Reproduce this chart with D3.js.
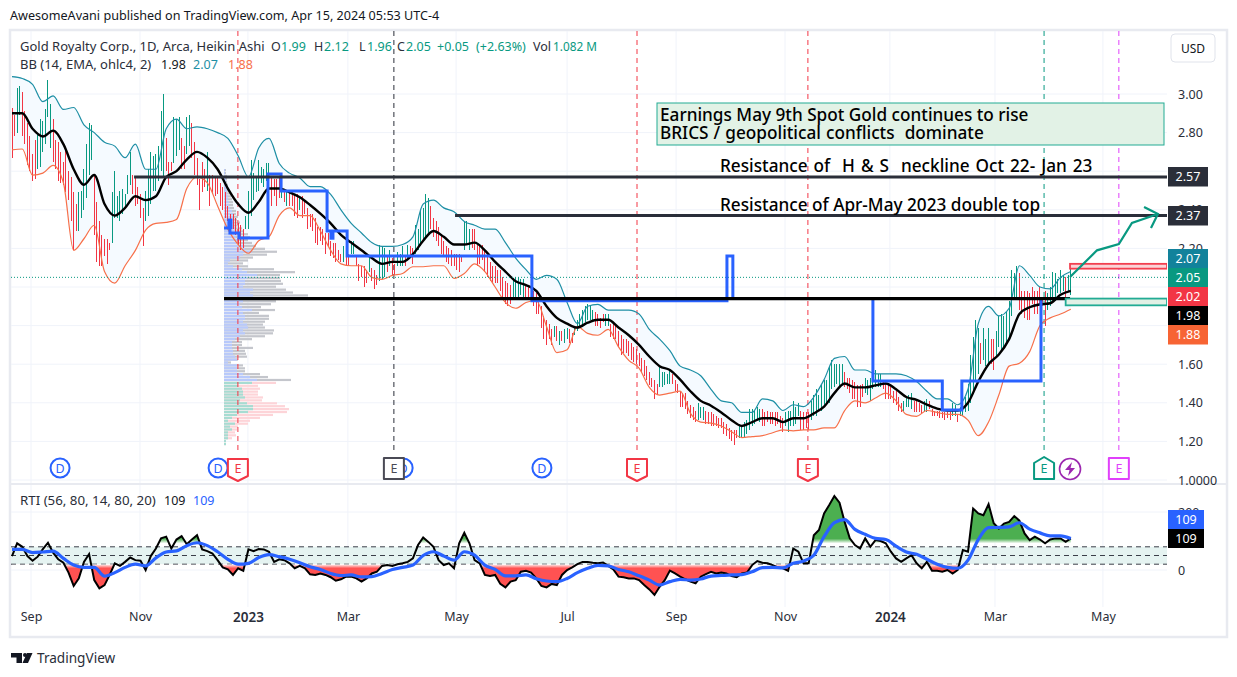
<!DOCTYPE html>
<html lang="en">
<head>
<meta charset="UTF-8">
<title>Gold Royalty Corp. 1D Heikin Ashi</title>
<script src="https://cdn.jsdelivr.net/npm/d3@7"></script>
<style>
  html, body { margin: 0; padding: 0; background: #fff; }
  svg { display: block; }
  text { font-family: "Noto Sans", "Open Sans", sans-serif; fill: #131722; }
  .axis text { font-size: 12.5px; fill: #2a2e39; }
  .axis path, .axis line { display: none; }
</style>
</head>
<body>
<div id="chart"></div>
<script>
  // Heikin Ashi bars, one entry per trading day
  var barHigh = [2.93,2.89,3.03,3.04,3.01,2.91,2.85,2.78,2.69,2.76,2.79,2.87,2.86,2.92,3.07,2.95,2.87,2.76,2.75,2.70,
    2.65,2.71,2.60,2.57,2.49,2.43,2.49,2.50,2.61,2.74,2.85,2.84,2.58,2.44,2.34,2.27,2.25,2.25,2.23,2.49,
    2.60,2.47,2.50,2.51,2.48,2.58,2.70,2.58,2.57,2.52,2.48,2.41,2.50,2.61,2.70,2.68,2.69,2.73,2.91,3.00,
    2.77,2.65,2.65,2.88,2.87,2.88,2.77,2.73,2.88,2.89,2.85,2.75,2.67,2.56,2.65,2.61,2.70,2.58,2.58,2.57,
    2.57,2.54,2.52,2.49,2.42,2.38,2.38,2.36,2.33,2.32,2.30,2.37,2.50,2.66,2.59,2.57,2.66,2.62,2.61,2.64,
    2.64,2.57,2.56,2.56,2.57,2.51,2.51,2.50,2.49,2.49,2.48,2.48,2.47,2.47,2.45,2.41,2.38,2.38,2.36,2.31,
    2.31,2.30,2.28,2.28,2.24,2.23,2.23,2.19,2.17,2.21,2.16,2.17,2.24,2.24,2.16,2.12,2.11,2.11,2.09,2.15,
    2.10,2.09,2.06,2.22,2.21,2.20,2.16,2.19,2.15,2.12,2.18,2.17,2.21,2.16,2.22,2.21,2.20,2.32,2.30,2.40,
    2.41,2.48,2.46,2.42,2.36,2.34,2.31,2.27,2.24,2.21,2.20,2.19,2.17,2.17,2.17,2.16,2.34,2.34,2.30,2.30,
    2.30,2.22,2.21,2.22,2.19,2.16,2.13,2.11,2.11,2.09,2.09,2.05,2.03,2.02,2.01,2.04,2.05,2.05,2.04,2.04,
    2.01,2.01,1.99,1.98,1.97,1.93,1.90,1.85,1.83,1.81,1.78,1.80,1.80,1.77,1.77,1.78,1.79,1.78,1.76,1.80,
    1.83,1.86,1.88,1.90,1.91,1.90,1.88,1.87,1.86,1.84,1.86,1.86,1.86,1.81,1.81,1.80,1.77,1.75,1.73,1.73,
    1.72,1.71,1.69,1.68,1.66,1.63,1.62,1.59,1.56,1.53,1.52,1.50,1.59,1.56,1.56,1.55,1.57,1.55,1.52,1.50,
    1.46,1.45,1.45,1.41,1.39,1.38,1.36,1.40,1.38,1.38,1.36,1.35,1.35,1.34,1.33,1.32,1.32,1.30,1.29,1.27,
    1.26,1.26,1.26,1.29,1.28,1.30,1.31,1.37,1.37,1.36,1.38,1.37,1.37,1.35,1.36,1.35,1.35,1.35,1.35,1.33,
    1.32,1.35,1.36,1.36,1.41,1.38,1.40,1.36,1.35,1.35,1.35,1.41,1.44,1.47,1.44,1.50,1.52,1.52,1.59,1.62,
    1.60,1.60,1.60,1.60,1.56,1.53,1.53,1.52,1.51,1.49,1.49,1.50,1.53,1.52,1.53,1.55,1.57,1.55,1.55,1.52,
    1.50,1.49,1.48,1.46,1.46,1.43,1.40,1.41,1.43,1.44,1.45,1.41,1.41,1.40,1.39,1.41,1.42,1.41,1.37,1.36,
    1.36,1.36,1.35,1.35,1.35,1.35,1.40,1.39,1.34,1.38,1.40,1.43,1.50,1.65,1.74,1.83,1.79,1.71,1.79,1.73,
    1.79,1.73,1.73,1.77,1.85,1.86,1.85,1.87,1.93,2.09,2.07,2.11,2.07,1.98,1.98,1.98,1.97,2.00,1.98,1.98,
    2.00,1.94,1.98,1.97,2.00,2.08,2.07,2.04,2.09,2.06,2.05,2.06,2.12];
  var barLow = [2.67,2.78,2.80,2.89,2.78,2.74,2.63,2.60,2.55,2.56,2.61,2.62,2.70,2.74,2.88,2.72,2.65,2.61,2.55,2.54,
    2.53,2.49,2.45,2.34,2.19,2.29,2.29,2.36,2.40,2.46,2.58,2.66,2.27,2.13,2.11,2.11,2.16,2.12,2.19,2.23,
    2.36,2.36,2.34,2.38,2.42,2.48,2.53,2.48,2.42,2.43,2.36,2.21,2.34,2.37,2.43,2.50,2.50,2.55,2.60,2.57,
    2.60,2.53,2.60,2.64,2.68,2.71,2.61,2.61,2.69,2.73,2.67,2.58,2.53,2.40,2.49,2.52,2.50,2.42,2.48,2.47,
    2.48,2.42,2.40,2.36,2.34,2.32,2.30,2.27,2.22,2.19,2.20,2.30,2.30,2.37,2.45,2.49,2.50,2.54,2.52,2.55,
    2.51,2.42,2.47,2.42,2.46,2.46,2.44,2.42,2.42,2.42,2.37,2.36,2.40,2.36,2.38,2.30,2.31,2.29,2.23,2.22,
    2.24,2.22,2.17,2.21,2.16,2.15,2.13,2.14,2.13,2.13,2.11,2.11,2.17,2.17,2.11,2.03,2.05,2.00,2.02,2.08,
    2.03,1.99,2.01,2.03,2.04,2.05,2.08,2.11,2.06,2.06,2.11,2.11,2.11,2.11,2.15,2.15,2.12,2.17,2.19,2.21,
    2.24,2.26,2.28,2.30,2.26,2.24,2.21,2.17,2.16,2.13,2.12,2.11,2.11,2.09,2.08,2.13,2.19,2.22,2.19,2.20,
    2.19,2.11,2.12,2.14,2.08,2.05,2.03,2.02,2.02,2.02,1.98,1.95,1.91,1.90,1.91,1.95,1.95,1.95,1.96,1.95,
    1.95,1.95,1.93,1.90,1.86,1.86,1.79,1.73,1.70,1.73,1.70,1.74,1.72,1.70,1.72,1.71,1.73,1.71,1.71,1.75,
    1.77,1.79,1.80,1.82,1.83,1.83,1.83,1.80,1.80,1.79,1.82,1.80,1.80,1.74,1.73,1.73,1.69,1.65,1.66,1.66,
    1.64,1.62,1.61,1.60,1.59,1.56,1.54,1.52,1.49,1.48,1.42,1.44,1.48,1.48,1.49,1.50,1.50,1.50,1.46,1.45,
    1.38,1.38,1.37,1.34,1.32,1.31,1.30,1.31,1.32,1.31,1.29,1.29,1.28,1.28,1.28,1.27,1.27,1.24,1.23,1.21,
    1.20,1.18,1.22,1.22,1.22,1.22,1.24,1.26,1.28,1.29,1.31,1.30,1.28,1.28,1.30,1.29,1.29,1.28,1.29,1.27,
    1.25,1.28,1.25,1.28,1.28,1.29,1.33,1.26,1.26,1.27,1.26,1.31,1.33,1.33,1.36,1.36,1.38,1.40,1.40,1.47,
    1.48,1.50,1.48,1.50,1.48,1.47,1.45,1.42,1.42,1.38,1.38,1.43,1.45,1.44,1.41,1.47,1.48,1.48,1.48,1.47,
    1.42,1.42,1.42,1.40,1.39,1.36,1.35,1.36,1.38,1.38,1.37,1.35,1.35,1.35,1.34,1.35,1.35,1.37,1.33,1.33,
    1.33,1.32,1.32,1.31,1.32,1.31,1.33,1.33,1.30,1.33,1.33,1.35,1.36,1.40,1.45,1.52,1.55,1.60,1.62,1.59,
    1.59,1.60,1.57,1.64,1.69,1.67,1.69,1.71,1.73,1.85,1.94,1.95,1.88,1.86,1.84,1.83,1.83,1.91,1.86,1.86,
    1.91,1.90,1.80,1.88,1.90,1.92,1.93,1.97,1.97,1.98,1.93,1.98,1.96];
  // run lengths of red / green bars, starting with red
  var barRuns = [2,2,6,6,10,6,7,8,5,8,3,3,2,2,6,1,14,10,4,1,1,1,4,1,16,1,2,2,5,1,3,3,1,1,2,3,1,1,2,6,13,3,16,5,11,1,1,1,1,2,2,8,4,2,19,5,10,3,13,9,9,6,4,13,8,7,8,4,4,2,9,2,1,8,1,3,2,9,11,7,1,2];

  // Bollinger bands, one value every 4th bar
  var bandStep = 4;
  var bbUpper = [3.09,3.08,3.05,2.96,2.99,2.92,2.93,2.84,2.80,2.75,2.73,2.67,2.74,2.61,2.61,2.82,2.87,2.82,2.83,2.82,
    2.80,2.77,2.68,2.57,2.72,2.77,2.64,2.59,2.565,2.52,2.52,2.48,2.40,2.33,2.28,2.23,2.21,2.21,2.22,2.26,
    2.43,2.45,2.41,2.39,2.34,2.32,2.30,2.30,2.23,2.15,2.09,2.04,2.06,2.04,1.92,1.81,1.90,1.91,1.88,1.88,
    1.88,1.86,1.78,1.73,1.67,1.59,1.57,1.54,1.47,1.41,1.40,1.35,1.35,1.42,1.41,1.36,1.39,1.38,1.43,1.52,
    1.63,1.64,1.57,1.57,1.55,1.55,1.55,1.54,1.51,1.46,1.42,1.42,1.39,1.47,1.81,1.90,1.85,1.89,2.11,2.06,
    2.00,1.99,2.05,2.08];
  var bbBasis = [2.90,2.90,2.82,2.78,2.81,2.74,2.61,2.53,2.58,2.43,2.37,2.41,2.47,2.45,2.47,2.57,2.60,2.66,2.70,2.67,
    2.61,2.51,2.43,2.385,2.44,2.51,2.51,2.49,2.465,2.425,2.38,2.33,2.27,2.23,2.19,2.15,2.12,2.13,2.13,2.17,
    2.24,2.29,2.26,2.22,2.22,2.23,2.19,2.13,2.08,2.03,2.01,1.98,1.90,1.84,1.81,1.79,1.815,1.83,1.83,1.79,
    1.75,1.70,1.64,1.59,1.57,1.52,1.46,1.41,1.385,1.35,1.31,1.28,1.30,1.32,1.32,1.30,1.32,1.32,1.345,1.38,
    1.45,1.50,1.48,1.48,1.49,1.50,1.47,1.43,1.415,1.39,1.37,1.36,1.36,1.40,1.51,1.60,1.65,1.73,1.86,1.895,
    1.91,1.916,1.96,1.98];
  var bbLower = [2.71,2.715,2.58,2.59,2.63,2.54,2.19,2.25,2.32,2.08,2.02,2.11,2.19,2.295,2.33,2.335,2.35,2.51,2.57,2.54,
    2.42,2.30,2.22,2.175,2.24,2.26,2.37,2.41,2.37,2.37,2.29,2.19,2.12,2.11,2.11,2.05,2.04,2.06,2.07,2.105,
    2.105,2.11,2.11,2.045,2.07,2.12,2.08,2.00,1.92,1.89,1.92,1.93,1.795,1.66,1.675,1.795,1.76,1.75,1.78,1.69,
    1.62,1.58,1.48,1.44,1.45,1.46,1.345,1.30,1.295,1.28,1.25,1.22,1.225,1.23,1.245,1.26,1.255,1.26,1.26,1.27,
    1.27,1.36,1.41,1.40,1.425,1.45,1.41,1.34,1.33,1.36,1.35,1.34,1.34,1.31,1.23,1.30,1.44,1.59,1.605,1.665,
    1.80,1.84,1.86,1.885];

  // RTI pane: value every 2nd bar, moving average every 4th bar
  var rtiStep = 2;
  var rtiValues = [48,92,80,48,32,46,72,94,60,37,25,-9,-55,-29,28,55,-35,-63,-52,-17,
    23,14,28,43,34,32,0,48,74,109,115,74,105,117,89,105,120,71,65,57,
    34,9,2,-17,6,-3,71,65,72,71,63,28,37,34,23,6,14,6,-15,-17,
    -12,-17,-25,-37,-32,-23,-23,-29,-40,-29,-12,-6,14,17,14,20,23,28,40,86,
    112,97,80,34,17,23,6,92,128,92,34,23,-17,-21,-17,-48,-60,-40,-35,-6,
    -3,-9,-29,-55,-60,-48,-52,-17,0,9,20,28,28,25,23,26,14,2,-23,-25,
    -29,-29,-35,-52,-67,-86,-58,-35,-2,-12,-23,-32,-40,-46,-23,-14,-6,-12,-9,-12,
    -21,-25,-12,-9,17,31,25,23,17,9,6,-3,74,63,23,23,120,138,195,224,
    255,232,166,109,86,74,109,80,103,100,92,63,40,28,40,51,23,6,28,-3,
    -3,-6,0,-12,0,69,63,212,195,189,227,161,143,160,166,186,170,126,103,115,
    105,92,105,109,109,97,109];
  var rtiMaStep = 4;
  var rtiMa = [71,71,60,62,65,40,17,9,9,-21,-9,9,20,14,42,62,66,84,94,84,
    63,37,20,23,43,53,46,37,25,11,2,-12,-19,-17,-24,-23,-12,2,9,17,
    50,63,48,34,63,51,17,2,-20,-20,-17,-30,-38,-40,-29,-9,6,16,14,2,
    -6,-20,-35,-52,-40,-32,-35,-31,-21,-19,-17,-16,-6,8,9,7,23,31,51,115,
    163,174,140,123,109,105,82,62,54,37,20,9,6,34,105,146,147,149,163,141,
    128,118,118,109];
  var rtiLevels = [20, 50, 80];

  // Axis ticks
  var priceGrid = [3.0, 2.8, 2.6, 2.4, 2.2, 2.0, 1.8, 1.6, 1.4, 1.2, 1.0];
  var priceTicks = [3.0, 2.8, 2.4, 2.2, 1.6, 1.4, 1.2, 1.0];
  var rtiTicks = [0, 200];
  var timeLabels = ["Sep", "Nov", "2023", "Mar", "May", "Jul", "Sep", "Nov", "2024", "Mar", "May"];
  var timeTickBars = [7.4, 49.8, 91.8, 130.7, 172.8, 216, 258.4, 300.8, 341.6, 382.5, 424.5];

  // Volume profile, rows from top to bottom: inner (blue / teal) and total width
  var vpInner = [1,1,1,2,2,2,3,3,3,4,4,5,5,6,8,9,9,10,9,10,11,11,13,12,14,15,
    19,21,28,19,16,6,4,9,18,23,33,23,21,21,19,29,26,29,19,19,16,18,28,19,21,21,19,23,24,19,21,16,11,8,8,8,9,9,11,13,4,13,13,13,19,26,33,
    28,14,18,19,19,21,16,23,29,29,24,13,8,4,11,6,8,4,4,4,2,2];
  var vpTotal = [2,2,3,3,3,4,4,5,6,7,8,9,9,10,12,12,14,13,16,15,18,20,24,26,24,28,
    32,41,53,43,29,24,19,24,50,71,56,56,57,59,52,62,69,84,64,52,47,37,51,35,45,45,41,39,41,50,49,41,28,18,18,29,21,22,23,14,7,19,21,21,36,44,67,
    52,34,36,34,34,39,38,53,61,65,63,49,36,26,24,14,13,11,12,8,2,2];
  var vpFirstGreenRow = 73;
  var vpTopPrice = 2.606, vpRowPrice = 0.0151;

  // Horizontal levels and drawings, in (bar, price)
  var resistanceLevels = [{bar: 47.5, price: 2.57}, {bar: 172.4, price: 2.37}];
  var blackLevel = {fromBar: 82.5, toBar: 411.7, price: 1.94};
  var stepBars = [82.5,84.8,84.8,88.3,88.3,99.6,99.6,104.7,104.7,122.6,122.6,130.4,130.4,202.3,202.3,278.2,278.2,280.5,280.5,335,335,362,362,369.6,369.6,400.4,400.4];
  var stepPrices = [2.306,2.306,2.28,2.28,2.254,2.254,2.585,2.585,2.497,2.497,2.29,2.29,2.16,2.16,1.929,1.929,2.16,2.16,1.94,1.94,1.513,1.513,1.363,1.363,1.513,1.513,1.94];
  var arrowBars = [411.7,422.2,430.7,435.8,445.9];
  var arrowPrices = [2.052,2.19,2.223,2.332,2.378];
  var arrowHeadBars = [440.5,445.9,443.2];
  var arrowHeadPrices = [2.415,2.378,2.306];

  // Events under the chart
  var dividendBars = [18.7, 80.2, 152.2, 206.2];
  var earnings = [
    {bar: 87.9, color: "#f23645", kind: "down", text: "E"},
    {bar: 148.6, color: "#4a4a55", kind: "square", text: "E"},
    {bar: 243.2, color: "#f23645", kind: "down", text: "E"},
    {bar: 309.7, color: "#f23645", kind: "down", text: "E"},
    {bar: 401.6, color: "#089981", kind: "up", text: "E"},
    {bar: 430.7, color: "#e040fb", kind: "square", text: "E"}
  ];
  var splitBar = 411.7;

  var width = 1237, height = 677;
  var paneRight = 1167, priceTop = 31, priceBottom = 483, rtiBottom = 607;

  var svg = d3.select("#chart").append("svg")
    .attr("width", width).attr("height", height);

  var x = d3.scaleLinear().domain([0, 412]).range([12, 1070.8]);
  var yPrice = d3.scaleLinear().domain([1, 3]).range([480, 94]);
  var yRti = d3.scaleLinear().domain([0, 200]).range([570, 512]);

  var defs = svg.append("defs");
  defs.append("clipPath").attr("id", "priceClip").append("rect")
    .attr("x", 11).attr("y", priceTop).attr("width", paneRight - 11).attr("height", priceBottom - priceTop);
  defs.append("clipPath").attr("id", "rtiClip").append("rect")
    .attr("x", 11).attr("y", priceBottom).attr("width", paneRight - 11).attr("height", rtiBottom - priceBottom);
  defs.append("clipPath").attr("id", "redClip").append("rect")
    .attr("x", 11).attr("y", yRti(20)).attr("width", paneRight - 11).attr("height", 60);
  defs.append("clipPath").attr("id", "greenClip").append("rect")
    .attr("x", 11).attr("y", priceBottom).attr("width", paneRight - 11).attr("height", yRti(92) - priceBottom);

  var redGrad = defs.append("linearGradient").attr("id", "redFill").attr("gradientUnits", "userSpaceOnUse")
    .attr("x1", 0).attr("x2", 0).attr("y1", yRti(20)).attr("y2", yRti(6));
  redGrad.append("stop").attr("offset", 0).attr("stop-color", "#fff");
  redGrad.append("stop").attr("offset", 1).attr("stop-color", "#ff5252");
  var greenGrad = defs.append("linearGradient").attr("id", "greenFill").attr("gradientUnits", "userSpaceOnUse")
    .attr("x1", 0).attr("x2", 0).attr("y1", yRti(92)).attr("y2", yRti(108));
  greenGrad.append("stop").attr("offset", 0).attr("stop-color", "#fff");
  greenGrad.append("stop").attr("offset", 1).attr("stop-color", "#4caf50");

  // Frame and grid
  svg.append("rect").attr("x", 10).attr("y", 30).attr("width", 1217).attr("height", 607)
    .attr("fill", "#fff").attr("stroke", "#e8eaf0").attr("stroke-width", 2.5);

  var grid = svg.append("g").attr("stroke", "#f0f3fa").attr("stroke-width", 1);
  grid.selectAll(".v").data(timeTickBars).enter().append("line")
    .attr("x1", function(d) { return x(d); }).attr("x2", function(d) { return x(d); })
    .attr("y1", priceTop).attr("y2", rtiBottom);
  grid.selectAll(".h").data(priceGrid).enter().append("line")
    .attr("x1", 11).attr("x2", paneRight)
    .attr("y1", function(d) { return yPrice(d); }).attr("y2", function(d) { return yPrice(d); });
  grid.selectAll(".r").data(rtiTicks).enter().append("line")
    .attr("x1", 11).attr("x2", paneRight)
    .attr("y1", function(d) { return yRti(d); }).attr("y2", function(d) { return yRti(d); });
  svg.append("line").attr("x1", 10).attr("x2", 1227).attr("y1", priceBottom + 1).attr("y2", priceBottom + 1)
    .attr("stroke", "#e8eaf0").attr("stroke-width", 2);

  // Axes
  svg.append("g").attr("class", "axis").attr("transform", "translate(1175,0)")
    .call(d3.axisRight(yPrice).tickValues(priceTicks).tickSize(0)
      .tickFormat(function(d) { return d === 1 ? "1.0000" : d.toFixed(2); }));
  svg.append("g").attr("class", "axis").attr("transform", "translate(1175,0)")
    .call(d3.axisRight(yRti).tickValues(rtiTicks).tickSize(0));
  svg.append("g").attr("class", "axis").attr("transform", "translate(0,609)")
    .call(d3.axisBottom(x).tickValues(timeTickBars).tickSize(0)
      .tickFormat(function(d, i) { return timeLabels[i]; }))
    .selectAll("text").attr("font-weight", function(d, i) { return /^20/.test(timeLabels[i]) ? 600 : 400; })
    .style("font-size", function(d, i) { return /^20/.test(timeLabels[i]) ? "13.5px" : "12.5px"; });

  // Price pane
  var pricePane = svg.append("g").attr("clip-path", "url(#priceClip)");

  var bandIdx = d3.range(bbUpper.length);
  pricePane.append("path").datum(bandIdx)
    .attr("fill", "#f5faff")
    .attr("d", d3.area().x(function(i) { return x(i * bandStep); })
      .y0(function(i) { return yPrice(bbLower[i]); })
      .y1(function(i) { return yPrice(bbUpper[i]); })
      .curve(d3.curveMonotoneX));

  // Volume profile
  var vpBars = d3.range(vpTotal.length).map(function(i) {
    return {price: vpTopPrice - i * vpRowPrice, inner: vpInner[i], total: vpTotal[i], green: i >= vpFirstGreenRow};
  });
  var vpX = d3.scaleLinear().domain([0, 100]).range([224, 324]);
  var vpGroup = pricePane.append("g");
  vpGroup.selectAll(".total").data(vpBars).enter().append("rect")
    .attr("x", vpX(0)).attr("y", function(d) { return yPrice(d.price) - 1; })
    .attr("width", function(d) { return vpX(d.total) - vpX(0); }).attr("height", 2.2)
    .attr("fill", function(d) { return d.green ? "#fdd4d8" : "#c4c6cc"; });
  vpGroup.selectAll(".inner").data(vpBars).enter().append("rect")
    .attr("x", vpX(0)).attr("y", function(d) { return yPrice(d.price) - 1; })
    .attr("width", function(d) { return vpX(d.inner) - vpX(0); }).attr("height", 2.2)
    .attr("fill", function(d) { return d.green ? "#a6dcd2" : "#b8c9fb"; });

  // Vertical event lines
  var eventLines = pricePane.append("g");
  earnings.forEach(function(e) {
    eventLines.append("line").attr("x1", x(e.bar)).attr("x2", x(e.bar))
      .attr("y1", priceTop).attr("y2", 452)
      .attr("stroke", e.color === "#4a4a55" ? "#2a2e39" : e.color).attr("stroke-width", 1)
      .attr("stroke-dasharray", "5,4");
  });

  // Bars
  var barDir = [];
  barRuns.forEach(function(n, r) {
    for (var k = 0; k < n; k++) barDir.push(r % 2 === 0 ? "R" : "G");
  });
  pricePane.append("g").attr("shape-rendering", "crispEdges")
    .selectAll("line").data(barHigh).enter().append("line")
    .attr("x1", function(d, i) { return x(i); }).attr("x2", function(d, i) { return x(i); })
    .attr("y1", function(d) { return yPrice(d); })
    .attr("y2", function(d, i) { return yPrice(barLow[i]); })
    .attr("stroke", function(d, i) { return barDir[i] === "G" ? "#089981" : "#f23645"; })
    .attr("stroke-width", 1);

  function bandLine(values) {
    return d3.line().x(function(d, i) { return x(i * bandStep); })
      .y(function(d) { return yPrice(d); }).curve(d3.curveMonotoneX)(values);
  }
  pricePane.append("path").attr("d", bandLine(bbUpper)).attr("fill", "none").attr("stroke", "#1e8fa5").attr("stroke-width", 1.2);
  pricePane.append("path").attr("d", bandLine(bbLower)).attr("fill", "none").attr("stroke", "#f7704a").attr("stroke-width", 1.2);
  pricePane.append("path").attr("d", bandLine(bbBasis)).attr("fill", "none").attr("stroke", "#000").attr("stroke-width", 2.4);

  // Last price dotted line
  pricePane.append("line").attr("x1", 11).attr("x2", paneRight).attr("y1", yPrice(2.05)).attr("y2", yPrice(2.05))
    .attr("stroke", "#089981").attr("stroke-dasharray", "1,2");

  // Blue step line
  pricePane.append("path").datum(d3.range(stepBars.length))
    .attr("fill", "none").attr("stroke", "#2962ff").attr("stroke-width", 3)
    .attr("d", d3.line().x(function(i) { return x(stepBars[i]); }).y(function(i) { return yPrice(stepPrices[i]); }));
  pricePane.append("line").attr("x1", x(84.8)).attr("x2", x(84.8)).attr("y1", yPrice(2.355)).attr("y2", yPrice(2.30))
    .attr("stroke", "#2962ff").attr("stroke-width", 5);
  pricePane.append("line").attr("x1", x(124.5)).attr("x2", x(124.5)).attr("y1", yPrice(2.29)).attr("y2", yPrice(2.245))
    .attr("stroke", "#2962ff").attr("stroke-width", 5);

  // Levels
  resistanceLevels.forEach(function(r) {
    pricePane.append("line").attr("x1", x(r.bar)).attr("x2", paneRight)
      .attr("y1", yPrice(r.price)).attr("y2", yPrice(r.price))
      .attr("stroke", "#2a2e39").attr("stroke-width", 3);
  });
  pricePane.append("line").attr("x1", x(blackLevel.fromBar)).attr("x2", x(blackLevel.toBar))
    .attr("y1", yPrice(blackLevel.price)).attr("y2", yPrice(blackLevel.price))
    .attr("stroke", "#000").attr("stroke-width", 3.4);

  // Long / short boxes
  pricePane.append("rect").attr("x", x(411.7)).attr("y", yPrice(2.12))
    .attr("width", paneRight - x(411.7)).attr("height", yPrice(2.095) - yPrice(2.12))
    .attr("fill", "#fbd3d7").attr("stroke", "#f23f4f").attr("stroke-width", 1.8);
  pricePane.append("rect").attr("x", x(410)).attr("y", yPrice(1.94))
    .attr("width", paneRight - x(410)).attr("height", yPrice(1.905) - yPrice(1.94))
    .attr("fill", "#e2f0e5").attr("stroke", "#22ab94").attr("stroke-width", 1.8);

  // Forecast arrow
  var arrowLine = d3.line().x(function(d) { return x(d[0]); }).y(function(d) { return yPrice(d[1]); });
  pricePane.append("path").attr("d", arrowLine(d3.zip(arrowBars, arrowPrices)))
    .attr("fill", "none").attr("stroke", "#089981").attr("stroke-width", 2.2);
  pricePane.append("path").attr("d", arrowLine(d3.zip(arrowHeadBars, arrowHeadPrices)))
    .attr("fill", "none").attr("stroke", "#089981").attr("stroke-width", 2.2);

  // Annotation box and texts
  svg.append("rect").attr("x", 657).attr("y", 103).attr("width", 507).attr("height", 42)
    .attr("fill", "#e2f2e6").attr("stroke", "#22ab94").attr("stroke-width", 1);
  function addText(str, tx, ty, size, color, weight, anchor) {
    return svg.append("text").attr("x", tx).attr("y", ty).text(str)
      .style("font-size", size + "px").style("fill", color || "#131722")
      .style("white-space", "pre")
      .attr("font-weight", weight || 400).attr("text-anchor", anchor || "start");
  }
  addText("Earnings May 9th Spot Gold continues to rise", 660, 121, 17.2, "#000", 500);
  addText("BRICS / geopolitical conflicts  dominate", 660, 139, 17.2, "#000", 500).style("word-spacing", "0.6px");
  addText("Resistance of  H & S  neckline Oct 22- Jan 23", 720, 172, 17.2, "#000", 500).style("word-spacing", "1.5px");
  addText("Resistance of Apr-May 2023 double top", 720, 211, 17.2, "#000", 500);

  // Header and legends
  addText("AwesomeAvani published on TradingView.com, Apr 15, 2024 05:53 UTC-4", 10, 20, 12.6, "#131722");
  var legendDim = "#2a2e39", up = "#089981";
  var legendRow = [
    ["O", 271, legendDim], ["1.99", 281, up],
    ["H", 314, legendDim], ["2.12", 324, up], ["L", 359, legendDim], ["1.96", 367, up], ["C", 397, legendDim],
    ["2.05", 406, up], ["+0.05", 437, up], ["(+2.63%)", 476, up], ["Vol", 533, legendDim]
  ];
  addText("Gold Royalty Corp., 1D, Arca, Heikin Ashi", 20, 51, 13, legendDim);
  legendRow.forEach(function(t) { addText(t[0], t[1], 51, 12.5, t[2]); });
  addText("1.082 M", 553, 51, 11.8, up);
  addText("BB (14, EMA, ohlc4, 2)", 20, 69, 13, legendDim);
  addText("1.98", 161, 69, 12.5, "#131722");
  addText("2.07", 193, 69, 12.5, "#1e8fa5");
  addText("1.88", 228, 69, 12.5, "#f7704a");
  addText("RTI (56, 80, 14, 80, 20)", 20, 505, 13.3, legendDim);
  addText("109", 164, 505, 12.5, "#131722");
  addText("109", 193, 505, 12.5, "#2962ff");

  // Event markers
  var markers = svg.append("g");
  dividendBars.forEach(function(b) {
    markers.append("circle").attr("cx", x(b)).attr("cy", 468).attr("r", 9.5)
      .attr("fill", "#fff").attr("stroke", "#2962ff").attr("stroke-width", 2);
    markers.append("text").attr("x", x(b)).attr("y", 472.5).attr("text-anchor", "middle")
      .text("D").style("font-size", "12.5px").style("fill", "#2962ff");
  });
  earnings.forEach(function(e) {
    var cx = x(e.bar), pts;
    if (e.kind === "down") pts = [[-10,459],[10,459],[10,476],[0,481],[-10,476]];
    else if (e.kind === "up") pts = [[-10,463],[0,457],[10,463],[10,479],[-10,479]];
    else pts = [[-10,458],[10,458],[10,479],[-10,479]];
    markers.append("polygon")
      .attr("points", pts.map(function(p) { return (cx + p[0]) + "," + p[1]; }).join(" "))
      .attr("fill", "#fff").attr("stroke", e.color).attr("stroke-width", 2).attr("stroke-linejoin", "round");
    markers.append("text").attr("x", cx).attr("y", 473).attr("text-anchor", "middle")
      .text(e.text).style("font-size", "12.5px").style("fill", e.color);
  });
  markers.append("circle").attr("cx", x(splitBar)).attr("cy", 469).attr("r", 10.5)
    .attr("fill", "#fff").attr("stroke", "#9c27b0").attr("stroke-width", 1.6);
  markers.append("polygon")
    .attr("points", [[2,-7],[-5,1],[-0.5,1],[-2,7],[5,-1],[0.5,-1]].map(function(p) { return (x(splitBar) + p[0]) + "," + (469 + p[1]); }).join(" "))
    .attr("fill", "#9c27b0");

  // RTI pane
  var rtiPane = svg.append("g").attr("clip-path", "url(#rtiClip)");
  rtiPane.append("rect").attr("x", 11).attr("width", paneRight - 11)
    .attr("y", yRti(d3.max(rtiLevels))).attr("height", yRti(d3.min(rtiLevels)) - yRti(d3.max(rtiLevels)))
    .attr("fill", "#e5f3f1");
  rtiPane.selectAll(".level").data(rtiLevels).enter().append("line")
    .attr("x1", 11).attr("x2", paneRight)
    .attr("y1", function(d) { return yRti(d); }).attr("y2", function(d) { return yRti(d); })
    .attr("stroke", "#3a3e49").attr("stroke-dasharray", "5,4").attr("stroke-width", 1);

  rtiPane.append("g").attr("clip-path", "url(#redClip)").append("path")
    .attr("fill", "url(#redFill)")
    .attr("d", d3.area().x(function(d, i) { return x(i * rtiStep); }).y0(yRti(20)).y1(function(d) { return yRti(d); })(rtiValues));
  rtiPane.append("g").attr("clip-path", "url(#greenClip)").append("path")
    .attr("fill", "url(#greenFill)")
    .attr("d", d3.area().x(function(d, i) { return x(i * rtiStep); }).y0(yRti(92)).y1(function(d) { return yRti(d); })(rtiValues));
  rtiPane.append("path").attr("fill", "none").attr("stroke", "#000").attr("stroke-width", 2)
    .attr("d", d3.line().x(function(d, i) { return x(i * rtiStep); }).y(function(d) { return yRti(d); })(rtiValues));
  rtiPane.append("path").attr("fill", "none").attr("stroke", "#2962ff").attr("stroke-width", 3.2)
    .attr("d", d3.line().x(function(d, i) { return x(i * rtiMaStep); }).y(function(d) { return yRti(d); }).curve(d3.curveMonotoneX)(rtiMa));

  // Price labels on the axis
  var priceLabels = [
    {text: "2.57", top: 167, fill: "#2a2e39"}, {text: "2.37", top: 206, fill: "#2a2e39"},
    {text: "2.07", top: 249, fill: "#12829b"}, {text: "2.05", top: 268, fill: "#089981"},
    {text: "2.02", top: 287, fill: "#f23645"}, {text: "1.98", top: 306, fill: "#000"},
    {text: "1.88", top: 325, fill: "#f76434"}
  ];
  var labels = svg.append("g");
  priceLabels.forEach(function(l) {
    labels.append("rect").attr("x", 1168).attr("y", l.top).attr("width", 40).attr("height", 19.5).attr("fill", l.fill);
    labels.append("text").attr("x", 1188).attr("y", l.top + 14).attr("text-anchor", "middle")
      .text(l.text).style("font-size", "12.5px").style("fill", "#fff");
  });
  [{top: 510, fill: "#2962ff"}, {top: 529, fill: "#000"}].forEach(function(l) {
    labels.append("rect").attr("x", 1168).attr("y", l.top).attr("width", 36).attr("height", 19).attr("fill", l.fill);
    labels.append("text").attr("x", 1186).attr("y", l.top + 14).attr("text-anchor", "middle")
      .text("109").style("font-size", "12.5px").style("fill", "#fff");
  });

  // USD button
  svg.append("rect").attr("x", 1171).attr("y", 34).attr("width", 44).attr("height", 28).attr("rx", 4)
    .attr("fill", "#fff").attr("stroke", "#e0e3eb");
  addText("USD", 1193, 53, 12, "#131722", 400, "middle");

  // Logo
  var logo = svg.append("g").attr("fill", "#131722");
  logo.append("path").attr("d", "M11 653h11v10h-5.5v-5.5h-5.5z");
  logo.append("circle").attr("cx", 25).attr("cy", 655).attr("r", 2);
  logo.append("path").attr("d", "M27 653h5.5l-4.5 10h-5.5z");
  addText("TradingView", 37, 663, 13.6, "#2a2e39");
</script>
</body>
</html>
